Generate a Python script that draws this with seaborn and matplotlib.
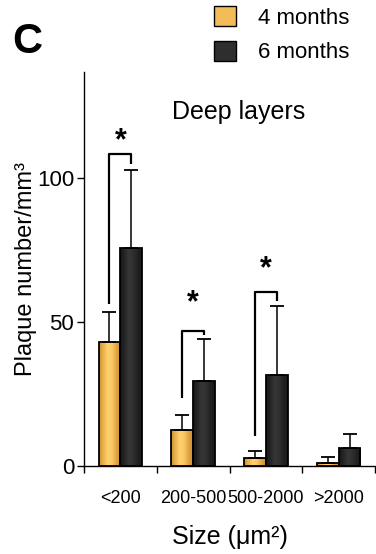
import numpy as np
import pandas as pd
import matplotlib
matplotlib.use('Agg')
import matplotlib.pyplot as plt
from matplotlib.colors import LinearSegmentedColormap
from matplotlib.patches import Patch
import seaborn as sns

# Данные
sizes = ['<200', '200-500', '500-2000', '>2000']
groups = ['4 months', '6 months']
mean_4m = [43.0, 12.5, 2.7, 1.2]
sd_4m = [10.6, 5.3, 2.5, 1.9]
mean_6m = [75.8, 29.7, 31.6, 6.2]
sd_6m = [27.1, 14.5, 23.9, 4.8]

# Скобки значимости (индекс категории, верх, низ левой ножки, низ правой, звёздочка)
sig_idx = [0, 1, 2]
sig_top = [108.5, 47.0, 60.4]
sig_left = [56.4, 23.8, 10.5]
sig_right = [105.0, 45.6, 57.3]
sig_star = [113.0, 56.5, 68.4]

df = pd.DataFrame({
    'size': sizes * 2,
    'group': [groups[0]] * 4 + [groups[1]] * 4,
    'value': mean_4m + mean_6m,
})

sns.set_theme(style='white')
plt.rcParams['font.family'] = ['Liberation Sans', 'DejaVu Sans']
plt.rcParams['text.color'] = 'black'
plt.rcParams['axes.labelcolor'] = 'black'
plt.rcParams['xtick.color'] = 'black'
plt.rcParams['ytick.color'] = 'black'

fig = plt.figure(figsize=(3.76, 5.54), dpi=100)
ax = fig.add_axes([84 / 376, 1 - 466 / 554, 291 / 376, 394 / 554])

pal = {'4 months': '#F2BD58', '6 months': '#2A2A2A'}
sns.barplot(data=df, x='size', y='value', hue='group', order=sizes,
            hue_order=groups, palette=pal, width=0.6, errorbar=None,
            edgecolor='black', linewidth=1.3, legend=False, ax=ax)

# градиентная заливка столбиков
cmaps = [
    LinearSegmentedColormap.from_list('o', ['#C99232', '#EDB24A', '#FFD272', '#FCC862', '#E2A444', '#C89235']),
    LinearSegmentedColormap.from_list('k', ['#151515', '#262626', '#363636', '#303030', '#222222', '#181818']),
]
grad = np.linspace(0, 1, 64).reshape(1, -1)
for cont, cm in zip(ax.containers, cmaps):
    for p in cont:
        x0, y0 = p.get_x(), p.get_y()
        w, h = p.get_width(), p.get_height()
        im = ax.imshow(grad, cmap=cm, aspect='auto', extent=[x0, x0 + w, y0, y0 + h],
                       zorder=p.get_zorder() - 0.1)
        im.set_clip_path(p)
        p.set_facecolor('none')
        p.set_zorder(3)

# планки погрешностей (только вверх)
for cont, m, s in zip(ax.containers, [mean_4m, mean_6m], [sd_4m, sd_6m]):
    xs = [p.get_x() + p.get_width() / 2 for p in cont]
    ax.errorbar(xs, m, yerr=[np.zeros(len(s)), s], fmt='none', ecolor='black',
                elinewidth=1.1, capsize=5, capthick=1.3, zorder=2)

# скобки и звёздочки
for i, top, yl, yr, ys in zip(sig_idx, sig_top, sig_left, sig_right, sig_star):
    pl = ax.containers[0][i]
    pr = ax.containers[1][i]
    xl = pl.get_x() + pl.get_width() / 2
    xr = pr.get_x() + pr.get_width() / 2
    ax.plot([xl, xl, xr, xr], [yl, top, top, yr], color='black', lw=1.6,
            solid_capstyle='butt', zorder=4)
    ax.text((xl + xr) / 2, ys, '*', ha='center', va='center', fontsize=22,
            fontweight='bold', color='black')

ax.set_xlim(-0.5, 3.5)
ax.set_ylim(0, 137)
ax.set_yticks([0, 50, 100])
ax.set_xticks(range(4))
ax.set_xticklabels(sizes, fontsize=13)
ax.set_xticks([-0.5, 0.5, 1.5, 2.5, 3.5], minor=True)
ax.tick_params(axis='x', which='major', length=0, pad=17)
ax.tick_params(axis='x', which='minor', length=5, width=1, bottom=True, direction='out', color='black')
ax.tick_params(axis='y', length=5, width=1, left=True, direction='out', pad=2, labelsize=16, color='black')
ax.set_yticklabels(['0', '50', '100'])
for side in ['top', 'right']:
    ax.spines[side].set_visible(False)
for side in ['left', 'bottom']:
    ax.spines[side].set_color('black')
    ax.spines[side].set_linewidth(1.0)

ax.set_xlabel('Size (μm²)', fontsize=18, labelpad=13)
ax.set_ylabel('Plaque number/mm³', fontsize=17, labelpad=0)
ax.text(0.533, 0.898, 'Deep layers', transform=ax.transAxes, ha='center', va='center', fontsize=18)

fig.text(12 / 376, 1 - 42 / 554, 'C', fontsize=30, fontweight='bold', va='center', ha='left')

handles = [Patch(facecolor='#F2BD58', edgecolor='black', linewidth=1.0),
           Patch(facecolor='#2E2E2E', edgecolor='black', linewidth=1.0)]
fig.legend(handles, groups, loc='upper left', bbox_to_anchor=(214 / 376, 1 - 6 / 554),
           frameon=False, fontsize=16, handlelength=1.0, handleheight=1.0,
           handletextpad=1.0, labelspacing=0.55, borderpad=0, borderaxespad=0)

fig.savefig('out.png', dpi=100)
